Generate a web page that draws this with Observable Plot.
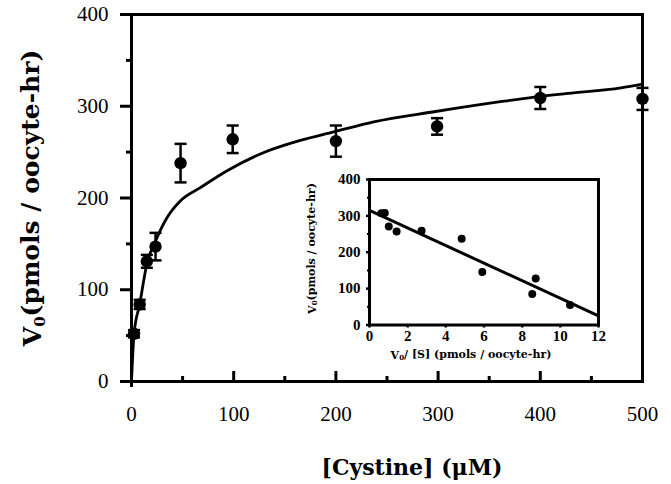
<!DOCTYPE html>
<html><head><meta charset="utf-8">
<script src="https://cdn.jsdelivr.net/npm/d3@7"></script>
<script src="https://cdn.jsdelivr.net/npm/@observablehq/plot@0.6"></script>
<style>
body{margin:0;background:#fff;}
#wrap{position:relative;width:671px;height:484px;overflow:hidden;}
#wrap svg{display:block;}
</style></head><body><div id="wrap"></div>
<script>
// Main plot data
const cystine = [2.5, 8, 15, 23.5, 48, 99, 200, 299, 400, 500];
const v0      = [52, 84, 131, 147, 238, 264, 262, 278, 309, 308];
const sem     = [4, 5, 7, 15, 21, 15, 17, 9, 12, 12];
const fitX = [0, 2.5, 8, 15, 23.5, 35, 48, 67, 94, 126, 166, 198, 237, 296, 361, 394, 427, 479, 500];
const fitY = [0, 52, 84, 128, 153, 179, 197, 211, 230, 248, 263, 272, 283, 294, 305, 310, 314, 320, 324];
const xTicks = [0, 100, 200, 300, 400, 500];
const xMinor = [50, 150, 250, 350, 450];
const yTicks = [0, 100, 200, 300, 400];
const yMinor = [50, 150, 250, 350];
// Inset (Eadie-Hofstee) data
const insetVS = [0.62, 0.80, 1.01, 1.42, 2.73, 4.83, 5.91, 8.53, 8.71, 10.51];
const insetV  = [307, 308, 271, 257, 259, 237, 146, 85, 128, 55];
const insetFitX = [0, 12];
const insetFitY = [315, 25];
const insetXTicks = [0, 2, 4, 6, 8, 10, 12];
const insetYTicks = [0, 100, 200, 300, 400];
const insetYMinor = [50, 150, 250, 350];

const data = cystine.map((x, i) => ({x, v: v0[i], e: sem[i]}));
const fit = fitX.map((x, i) => ({x, y: fitY[i]}));
const inset = insetVS.map((x, i) => ({x, y: insetV[i]}));
const insetFit = insetFitX.map((x, i) => ({x, y: insetFitY[i]}));

const capSymbol = {
  draw(context, size) {
    const r = Math.sqrt(size / Math.PI);
    context.moveTo(-r, 0);
    context.lineTo(r, 0);
  }
};

const serif = "'Liberation Serif', 'Times New Roman', serif";
const titleFont = "'DejaVu Serif', serif";

const main = Plot.plot({
  width: 671, height: 484,
  marginLeft: 131, marginRight: 29, marginTop: 14, marginBottom: 103,
  x: {domain: [0, 500]},
  y: {domain: [0, 400]},
  style: {background: "white", color: "black", fontFamily: serif, fontSize: "21px", overflow: "visible"},
  marks: [
    Plot.axisY(yTicks, {tickSize: 11, tickPadding: 12, strokeWidth: 3, label: null, fontSize: 21}),
    Plot.axisY(yMinor, {tickSize: 5, text: null, strokeWidth: 3, label: null}),
    Plot.axisX(xTicks, {tickSize: -10, text: null, strokeWidth: 3, label: null}),
    Plot.axisX(xMinor, {tickSize: -5, text: null, strokeWidth: 3, label: null}),
    Plot.axisX(xTicks, {tickSize: 0, tickPadding: 25, label: null, fontSize: 21}),
    Plot.frame({strokeWidth: 3}),
    Plot.ruleX([0], {insetBottom: -6, strokeWidth: 3}),
    Plot.line(fit, {x: "x", y: "y", curve: "monotone-x", strokeWidth: 2.8}),
    Plot.ruleX(data, {x: "x", y1: d => d.v - d.e, y2: d => d.v + d.e, strokeWidth: 2.5}),
    Plot.dot(data, {x: "x", y: d => d.v + d.e, symbol: capSymbol, r: 6, stroke: "black", strokeWidth: 2.5}),
    Plot.dot(data, {x: "x", y: d => d.v - d.e, symbol: capSymbol, r: 6, stroke: "black", strokeWidth: 2.5}),
    Plot.dot(data, {x: "x", y: "v", r: 6.2, fill: "black"})
  ]
});

const ms = d3.select(main);
const yt = ms.append("text")
  .attr("transform", "translate(41,198) rotate(-90)")
  .attr("text-anchor", "middle")
  .style("font-family", titleFont).style("font-weight", "bold").style("font-size", "25px").attr("fill", "black");
yt.append("tspan").text("V");
yt.append("tspan").attr("dy", "0.25em").style("font-size", "15px").text("0");
yt.append("tspan").attr("dy", "-0.25em").text("(pmols / oocyte-hr)");

ms.append("text")
  .attr("x", 412).attr("y", 475)
  .attr("text-anchor", "middle")
  .style("font-family", titleFont).style("font-weight", "bold").style("font-size", "22px").attr("fill", "black")
  .text("[Cystine] (\u03BCM)");

document.getElementById("wrap").appendChild(main);

const insetPlot = Plot.plot({
  width: 315, height: 195,
  marginLeft: 74, marginRight: 12, marginTop: 9, marginBottom: 40.5,
  x: {domain: [0, 12]},
  y: {domain: [0, 400]},
  style: {background: "transparent", color: "black", fontFamily: serif, fontSize: "15px", overflow: "visible"},
  marks: [
    Plot.axisY(insetYTicks, {tickSize: 3, tickPadding: 6, strokeWidth: 2.5, label: null, fontSize: 15}),
    Plot.axisY(insetYMinor, {tickSize: 2, text: null, strokeWidth: 2, label: null}),
    Plot.axisX(insetXTicks, {tickSize: 3, tickPadding: 2, strokeWidth: 2.5, label: null, fontSize: 15}),
    Plot.frame({strokeWidth: 3}),
    Plot.line(insetFit, {x: "x", y: "y", strokeWidth: 3}),
    Plot.dot(inset, {x: "x", y: "y", r: 4, fill: "black"})
  ]
});
insetPlot.style.position = "absolute";
insetPlot.style.left = "295px";
insetPlot.style.top = "170px";

const is = d3.select(insetPlot);
is.selectAll("g[aria-label$='tick label']").attr("font-weight", "bold").attr("font-size", 15).style("font-weight", "bold");
is.selectAll("g[aria-label$='tick label'] text").attr("font-weight", "bold").style("font-weight", "bold");
const iyt = is.append("text")
  .attr("transform", "translate(21,78.5) rotate(-90)")
  .attr("text-anchor", "middle")
  .style("font-family", titleFont).style("font-weight", "bold").style("font-size", "11px").attr("fill", "black");
iyt.append("tspan").text("V");
iyt.append("tspan").attr("dy", "0.2em").style("font-size", "7px").text("0");
iyt.append("tspan").attr("dy", "-0.2em").text("(pmols / oocyte-hr)");

const ixt = is.append("text")
  .attr("x", 176).attr("y", 189)
  .attr("text-anchor", "middle")
  .style("font-family", titleFont).style("font-weight", "bold").style("font-size", "11px").attr("fill", "black");
ixt.append("tspan").text("V");
ixt.append("tspan").attr("dy", "0.2em").style("font-size", "7px").text("0");
ixt.append("tspan").attr("dy", "-0.2em").text("/ [S] (pmols / oocyte-hr)");

document.getElementById("wrap").appendChild(insetPlot);
</script>
</body></html>
